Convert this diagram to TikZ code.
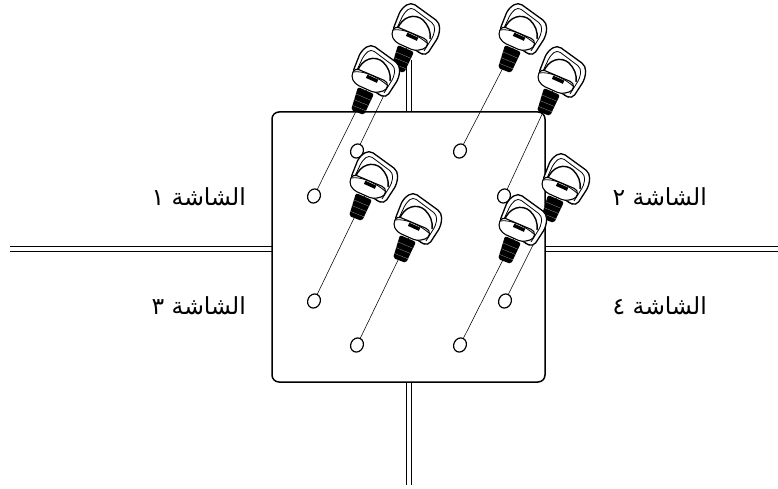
\documentclass[tikz,border=0pt]{standalone}
\usepackage{fontspec}
\usetikzlibrary{calc}
\usetikzlibrary{shapes.geometric}
\TeXXeTstate=1
\newfontfamily\arabicfont[Script=Arabic]{DejaVu Sans}
\tikzset{
	mullion/.style={line width=0.9pt},
	plate/.style={line width=1.5pt, rounded corners=7pt},
	leader/.style={line width=0.55pt},
	screwhole/.style={draw, ellipse, line width=1.2pt, rotate=64, minimum width=14.5pt, minimum height=12.5pt, inner sep=0pt},
	screenlabel/.style={font=\arabicfont\fontsize{23.5}{28}\selectfont, inner sep=0pt, anchor=east},
}
\newcommand{\thumbscrew}[1] % anchor coordinate at the slit of the head
{
	\begin{scope}[shift={(#1)}]
		% thread
		\fill[black, rounded corners=2pt] (-14,8) -- (2,15) -- (-8,36) -- (-21,31) -- cycle;
		\foreach \t in {0.3,0.55,0.8}
			\draw[white, line width=0.1pt] ($(-14,8)!\t!(-21,31)$) -- ($(2,15)!\t!(-8,36)$);
		% ring
		\draw[fill=white, line width=1.3pt, rounded corners=5pt] (-20,-5) -- (-11,-28) -- (-1,-35) -- (28,-14) -- (27,-1) -- (14,19) -- (6,15) -- cycle;
		\draw[line width=0.8pt, rounded corners=4pt] (-15,-9) -- (-8,-24) -- (-1,-30) -- (23,-12) -- (22,-2) -- (12,14);
		\draw[line width=1.4pt] (-15,-7) .. controls (-10,-21) and (3,-24) .. (11,-17) .. controls (16,-12) and (19,-6) .. (18,2);
		% head
		\draw[fill=white, line width=1.1pt, rounded corners=4pt] (-17,-11) -- (16,3) -- (15,11) -- (3,14) -- (-17,5) -- (-21,-3) -- cycle;
		\draw[line width=0.8pt] (-19,-7) .. controls (-8,-9) and (7,-1) .. (15,6);
		\fill[black, rotate=-24] (-6,-2) rectangle (6,1.5);
	\end{scope}
}
\begin{document}
\begin{tikzpicture}[x=1pt, y=-1pt]
	\useasboundingbox (0, 0) rectangle (778, 489);
	\fill[white] (0, 0) rectangle (778, 489);
	% screws, slit of the head
	\coordinate (s1) at (412, 37);
	\coordinate (s2) at (372, 79);
	\coordinate (s3) at (519, 37);
	\coordinate (s4) at (558, 80);
	\coordinate (s5) at (370, 185);
	\coordinate (s6) at (414, 227);
	\coordinate (s7) at (562, 187);
	\coordinate (s8) at (519, 228);
	
	% mullions
	\draw[mullion] (406, 60) -- (406, 112);
	\draw[mullion] (411, 60) -- (411, 112);
	\draw[mullion] (406, 382) -- (406, 485);
	\draw[mullion] (411, 382) -- (411, 485);
	\draw[mullion] (10, 246.5) -- (272, 246.5);
	\draw[mullion] (10, 251.5) -- (272, 251.5);
	\draw[mullion] (545, 246.5) -- (778, 246.5);
	\draw[mullion] (545, 251.5) -- (778, 251.5);
	
	\draw[plate] (272, 112) rectangle (545, 382);
	
	% holes
	\node[screwhole] (h1) at (357, 151) {};
	\node[screwhole] (h2) at (314, 196) {};
	\node[screwhole] (h3) at (460, 151) {};
	\node[screwhole] (h4) at (504, 196) {};
	\node[screwhole] (h5) at (314, 301) {};
	\node[screwhole] (h6) at (357, 345) {};
	\node[screwhole] (h7) at (505, 301) {};
	\node[screwhole] (h8) at (460, 345) {};
	
	\draw[leader] (s1) -- (h1);
	\draw[leader] (s2) -- (h2);
	\draw[leader] (s3) -- (h3);
	\draw[leader] (s4) -- (h4);
	\draw[leader] (s5) -- (h5);
	\draw[leader] (s6) -- (h6);
	\draw[leader] (s7) -- (h7);
	\draw[leader] (s8) -- (h8);
	
	\thumbscrew{s1};
	\thumbscrew{s2};
	\thumbscrew{s3};
	\thumbscrew{s4};
	\thumbscrew{s5};
	\thumbscrew{s6};
	\thumbscrew{s7};
	\thumbscrew{s8};
	
	% labels
	\node[screenlabel] (l1) at (246, 197) {\beginR الشاشة ١\endR};
	\node[screenlabel] (l2) at (707, 197) {\beginR الشاشة ٢\endR};
	\node[screenlabel] (l3) at (246, 306) {\beginR الشاشة ٣\endR};
	\node[screenlabel] (l4) at (707, 306) {\beginR الشاشة ٤\endR};
\end{tikzpicture}
\end{document}
